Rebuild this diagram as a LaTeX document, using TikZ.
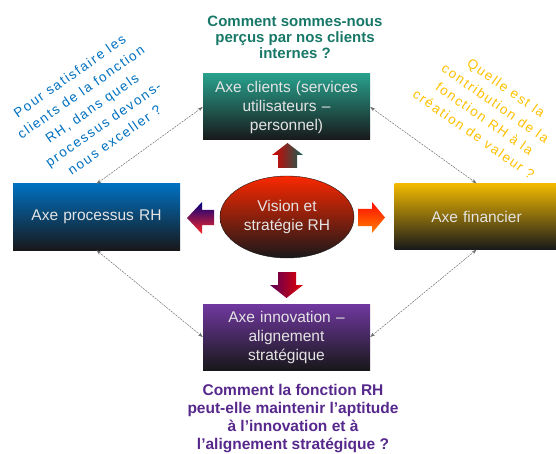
\documentclass[tikz,border=0pt]{standalone}
\usepackage{fontspec}
\setmainfont{Liberation Sans}
\newfontfamily\spacedfont[LetterSpace=12]{Liberation Sans}
\usetikzlibrary{arrows.meta,shapes.geometric}

\definecolor{boxtext}{RGB}{228,228,228}
\definecolor{darkend}{RGB}{24,24,26}
\definecolor{clienttop}{RGB}{40,160,140}
\definecolor{processtop}{RGB}{0,112,192}
\definecolor{financetop}{RGB}{242,186,0}
\definecolor{innovtop}{RGB}{112,56,160}
\definecolor{visiontop}{RGB}{250,40,0}
\definecolor{tealq}{RGB}{24,120,104}
\definecolor{purpleq}{RGB}{86,40,140}
\definecolor{blueq}{RGB}{0,112,192}
\definecolor{goldq}{RGB}{255,192,0}
\definecolor{linkgray}{RGB}{110,110,110}

\tikzset{
  axebox/.style={rectangle, minimum width=167pt, minimum height=66pt,
    inner sep=2pt, text width=160pt, align=center, text=boxtext,
    bottom color=darkend, font=\fontsize{15.5}{19}\selectfont},
  question/.style={align=center, inner sep=0pt,
    font=\bfseries\fontsize{15}{16}\selectfont},
  slanted/.style={align=center, inner sep=0pt,
    font=\spacedfont\fontsize{13.5}{19.5}\selectfont},
  link/.style={draw=linkgray, line width=0.5pt, dash pattern=on 2pt off 1pt,
    {Stealth[length=5pt,width=3.5pt]}-{Stealth[length=5pt,width=3.5pt]}},
}

\begin{document}
\begin{tikzpicture}[x=1pt, y=-1pt]
\useasboundingbox (0,0) rectangle (556,454);
\clip (0,0) rectangle (556,454);

% the four perspectives
\node[axebox, top color=clienttop] (clients) at (286.5,107)
  {Axe clients (services\\utilisateurs --\\personnel)};
\node[axebox, top color=processtop] (processus) at (96.5,217)
  {Axe processus RH};
\node[axebox, top color=financetop, minimum width=163pt] (financier) at (476.5,216.5)
  {Axe financier};
\node[axebox, top color=innovtop] (innovation) at (286.5,337)
  {Axe innovation --\\alignement\\stratégique};

% central vision
\node[ellipse, minimum width=134pt, minimum height=82pt, inner sep=0pt,
  top color=visiontop, bottom color=darkend, draw=darkend, line width=0.4pt,
  align=center, text=boxtext, font=\fontsize{15.5}{18.5}\selectfont]
  (vision) at (287,217) {Vision et\\stratégie RH};

% block arrows pointing from the vision to each perspective
\path[left color=red!85!black, right color=tealq!80!black]
  (278,168) -- (278,155) -- (272,155) -- (287.5,143) -- (303,155)
  -- (297,155) -- (297,168) -- cycle;
\path[top color=blue!50!black, bottom color=red!85!white]
  (214,210) -- (202,210) -- (202,202) -- (187,218) -- (202,234)
  -- (202,225) -- (214,225) -- cycle;
\path[top color=red!90!orange, bottom color=orange]
  (358,209) -- (372,209) -- (372,202) -- (385,217.5) -- (372,233)
  -- (372,226) -- (358,226) -- cycle;
\path[left color=violet!70!black, right color=red!90!black]
  (278,272) -- (296,272) -- (296,285) -- (303,285) -- (286.5,298)
  -- (270,285) -- (278,285) -- cycle;

% links between neighbouring perspectives
\draw[link] (processus.north) -- (clients.west);
\draw[link] (clients.east) -- (financier.north);
\draw[link] (processus.south) -- (innovation.west);
\draw[link] (financier.south) -- (innovation.east);

% guiding questions
\node[question, text=tealq] (qclients) at (295,37)
  {Comment sommes-nous\\perçus par nos clients\\internes ?};
\node[question, text=purpleq, font=\bfseries\fontsize{15.5}{18.3}\selectfont]
  (qinnov) at (293,418.5)
  {Comment la fonction RH\\peut-elle maintenir l'aptitude\\à l'innovation et à\\l'alignement stratégique ?};
\node[slanted, text=blueq, rotate=35] (qprocess) at (92,108)
  {Pour satisfaire les\\clients de la fonction\\RH, dans quels\\processus devons-\\nous exceller ?};
\node[slanted, text=goldq, rotate=-35, font=\spacedfont\fontsize{13.5}{18.8}\selectfont]
  (qfinance) at (490,111)
  {Quelle est la\\contribution de la\\fonction RH à la\\création de valeur ?};
\end{tikzpicture}
\end{document}
